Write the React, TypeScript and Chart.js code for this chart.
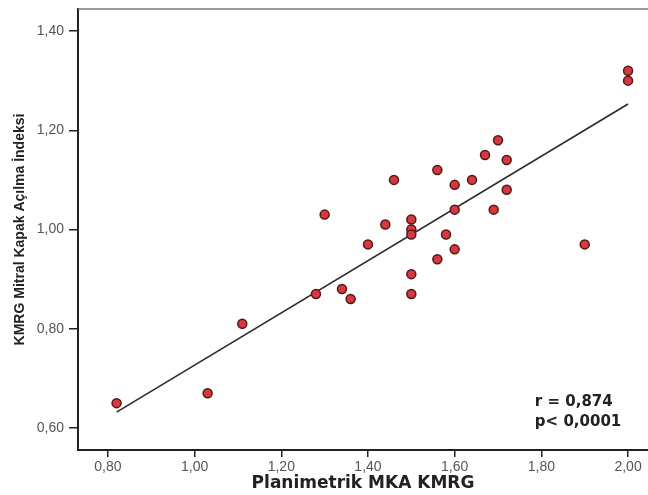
import React, { useEffect, useRef } from "react";
import { Chart, registerables } from "chart.js";

Chart.register(...registerables);

// Scatter data: Planimetrik MKA KMRG (x) vs KMRG Mitral Kapak Açılma İndeksi (y)
const planimetrikMKA = [
  0.82, 1.03, 1.11, 1.28, 1.3, 1.34, 1.36, 1.4, 1.44, 1.46, 1.5, 1.5, 1.5, 1.5, 1.5,
  1.56, 1.56, 1.58, 1.6, 1.6, 1.6, 1.64, 1.67, 1.69, 1.7, 1.72, 1.72, 1.9, 2.0, 2.0,
];
const kmrgIndeks = [
  0.65, 0.67, 0.81, 0.87, 1.03, 0.88, 0.86, 0.97, 1.01, 1.1, 1.02, 1.0, 0.99, 0.91, 0.87,
  1.12, 0.94, 0.99, 1.09, 1.04, 0.96, 1.1, 1.15, 1.04, 1.18, 1.14, 1.08, 0.97, 1.32, 1.3,
];

// Regression line end points
const fitX = [0.82, 2.0];
const fitY = [0.632, 1.253];

const xTicks = [0.8, 1.0, 1.2, 1.4, 1.6, 1.8, 2.0];
const yTicks = [0.6, 0.8, 1.0, 1.2, 1.4];

const xTitle = "Planimetrik MKA KMRG";
const yTitle = "KMRG Mitral Kapak Açılma İndeksi";
const statLines = ["r = 0,874", "p< 0,0001"];

const fmt = (v: number) => v.toFixed(2).replace(".", ",");

const framePlugin = {
  id: "frameAndStats",
  afterDraw(chart: any) {
    const { ctx, chartArea, scales } = chart;
    ctx.save();
    // top frame line
    ctx.strokeStyle = "#7a7a7a";
    ctx.lineWidth = 1.5;
    ctx.beginPath();
    ctx.moveTo(chartArea.left, chartArea.top);
    ctx.lineTo(chart.width, chartArea.top);
    ctx.stroke();
    // stats text
    ctx.fillStyle = "#222";
    ctx.font = "bold 15px 'DejaVu Sans'";
    ctx.textAlign = "left";
    ctx.textBaseline = "middle";
    const x0 = scales.x.getPixelForValue(1.785);
    const y0 = scales.y.getPixelForValue(0.652);
    statLines.forEach((s, i) => ctx.fillText(s, x0, y0 + i * 20));
    ctx.restore();
  },
};

export default function App() {
  const ref = useRef<HTMLCanvasElement | null>(null);

  useEffect(() => {
    if (!ref.current) return;
    const points = planimetrikMKA.map((x, i) => ({ x, y: kmrgIndeks[i] }));
    const fit = fitX.map((x, i) => ({ x, y: fitY[i] }));
    const chart = new Chart(ref.current, {
      type: "scatter",
      data: {
        datasets: [
          {
            type: "line",
            data: fit,
            borderColor: "#2b2b2b",
            borderWidth: 1.6,
            pointRadius: 0,
            fill: false,
            order: 2,
          } as any,
          {
            data: points,
            backgroundColor: "#e0333a",
            borderColor: "#4a1c1c",
            borderWidth: 1.5,
            pointRadius: 4.5,
            order: 1,
            clip: false,
          } as any,
        ],
      },
      options: {
        animation: false,
        responsive: true,
        maintainAspectRatio: false,
        layout: { autoPadding: false, padding: { top: 9, left: 0, right: 0, bottom: 0 } },
        plugins: { legend: { display: false }, tooltip: { enabled: false } },
        scales: {
          x: {
            type: "linear",
            min: 0.731,
            max: 2.046,
            afterBuildTicks: (s: any) => {
              s.ticks = xTicks.map((v) => ({ value: v }));
            },
            afterFit: (s: any) => {
              s.height = 45;
              s.paddingLeft = 0;
              s.paddingRight = 0;
            },
            ticks: {
              callback: (v: any) => fmt(Number(v)),
              color: "#555",
              font: { family: "'Liberation Sans', Arial", size: 14 },
              padding: 2,
              maxRotation: 0,
            },
            grid: {
              drawOnChartArea: false,
              drawTicks: true,
              tickLength: 7,
              color: "#222",
              lineWidth: 1.5,
            },
            border: { display: true, color: "#222", width: 2 },
            title: {
              display: true,
              text: xTitle,
              color: "#222",
              font: { family: "'DejaVu Sans'", size: 17, weight: "bold" },
              padding: { top: 0, bottom: 1 },
            },
          },
          y: {
            type: "linear",
            min: 0.5556,
            max: 1.4444,
            afterBuildTicks: (s: any) => {
              s.ticks = yTicks.map((v) => ({ value: v }));
            },
            afterFit: (s: any) => {
              s.width = 78;
              s.paddingTop = 0;
              s.paddingBottom = 0;
            },
            ticks: {
              callback: (v: any) => fmt(Number(v)),
              color: "#555",
              font: { family: "'Liberation Sans', Arial", size: 14 },
              padding: 5,
            },
            grid: {
              drawOnChartArea: false,
              drawTicks: true,
              tickLength: 9,
              color: "#222",
              lineWidth: 1.5,
            },
            border: { display: true, color: "#222", width: 2 },
            title: {
              display: true,
              text: yTitle,
              color: "#222",
              font: { family: "'Liberation Sans', Arial", size: 14, weight: "bold" },
              padding: { top: 12, bottom: 0 },
            },
          },
        },
      },
      plugins: [framePlugin],
    });
    return () => chart.destroy();
  }, []);

  return (
    <div style={{ position: "fixed", left: 0, top: 0, width: 648, height: 495, background: "#fff" }}>
      <canvas ref={ref} />
    </div>
  );
}
